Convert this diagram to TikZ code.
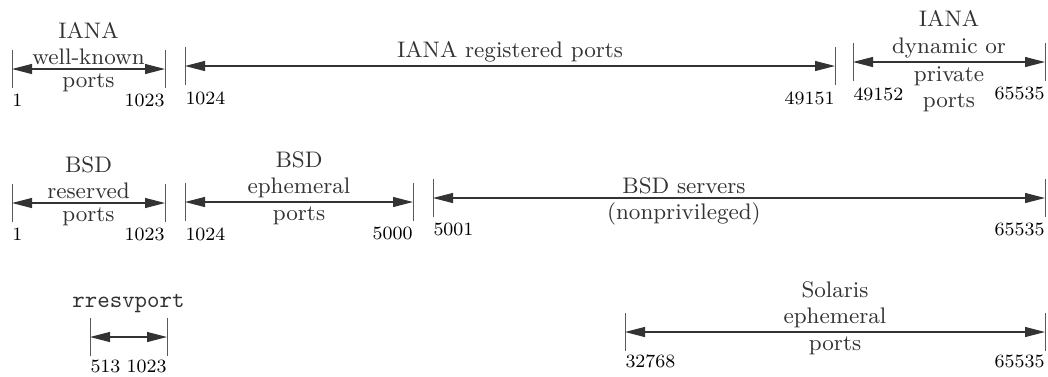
\documentclass[tikz,border=0pt]{standalone}
\usetikzlibrary{arrows.meta,positioning}
\begin{document}
\begin{tikzpicture}[
    x=0.4pt, y=-0.4pt,
    font=\fontsize{9}{10.5}\selectfont,
    span/.style={draw, black!80, line width=0.45pt, {Triangle[length=8pt,width=4pt]}-{Triangle[length=8pt,width=4pt]}},
    tick/.style={draw, black!65, line width=0.35pt},
    num/.style={font=\fontsize{7.5}{8}\selectfont, inner sep=0pt},
    lbl/.style={align=center, inner sep=1.5pt},
  ]
    \useasboundingbox (0,0) rectangle (1048,376);
    % range end points
    \coordinate (wk1) at (12,69);   \coordinate (wk2) at (165,69);
    \coordinate (rg1) at (185,66);  \coordinate (rg2) at (835,66);
    \coordinate (dy1) at (853,62);  \coordinate (dy2) at (1045,62);
    \coordinate (rs1) at (12,203);  \coordinate (rs2) at (165,203);
    \coordinate (ep1) at (185,202); \coordinate (ep2) at (413,202);
    \coordinate (sv1) at (433,198); \coordinate (sv2) at (1045,198);
    \coordinate (rr1) at (90,337);  \coordinate (rr2) at (167,337);
    \coordinate (so1) at (625,332); \coordinate (so2) at (1045,332);
    % ticks
    \foreach \c in {wk1,wk2,rg1,rg2,dy1,dy2,rs1,rs2,ep1,ep2,sv1,sv2,rr1,rr2,so1,so2}
      \draw[tick] (\c) ++(0,-19) -- ++(0,38);
    % IANA
    \draw[span] (wk1) -- node[lbl, above] (wkT) {IANA\\well-known} node[lbl, below] (wkB) {ports} (wk2);
    \draw[span] (rg1) -- node[lbl, above] (rgT) {IANA registered ports} (rg2);
    \draw[span] (dy1) -- node[lbl, above] (dyT) {IANA\\dynamic or} node[lbl, below=0pt] (dyB) {private\\ports} (dy2);
    \node[num, anchor=north west] (n1) at ([yshift=-10pt]wk1) {1};
    \node[num, anchor=north east] (n1023) at ([yshift=-10pt]wk2) {1023};
    \node[num, anchor=north west] (n1024) at ([yshift=-10pt]rg1) {1024};
    \node[num, anchor=north east] (n49151) at ([yshift=-10pt]rg2) {49151};
    \node[num, anchor=north west] (n49152) at ([yshift=-10pt]dy1) {49152};
    \node[num, anchor=north east] (n65535a) at ([yshift=-10pt]dy2) {65535};
    % BSD
    \draw[span] (rs1) -- node[lbl, above] (rsT) {BSD\\reserved} node[lbl, below] (rsB) {ports} (rs2);
    \draw[span] (ep1) -- node[lbl, above] (epT) {BSD\\ephemeral} node[lbl, below] (epB) {ports} (ep2);
    \draw[span] (sv1) -- node[lbl, above, pos=0.41] (svT) {BSD servers} node[lbl, below, pos=0.41] (svB) {(nonprivileged)} (sv2);
    \node[num, anchor=north west] (m1) at ([yshift=-10pt]rs1) {1};
    \node[num, anchor=north east] (m1023) at ([yshift=-10pt]rs2) {1023};
    \node[num, anchor=north west] (m1024) at ([yshift=-10pt]ep1) {1024};
    \node[num, anchor=north east] (m5000) at ([yshift=-10pt]ep2) {5000};
    \node[num, anchor=north west] (m5001) at ([yshift=-10pt]sv1) {5001};
    \node[num, anchor=north east] (m65535) at ([yshift=-10pt]sv2) {65535};
    % rresvport and Solaris
    \draw[span] (rr1) -- node[lbl, above=8pt] (rrT) {\ttfamily\fontsize{9.5}{11}\selectfont rresvport} (rr2);
    \draw[span] (so1) -- node[lbl, above] (soT) {Solaris\\ephemeral} node[lbl, below] (soB) {ports} (so2);
    \node[num, anchor=north west] (k513) at ([yshift=-9pt]rr1) {513};
    \node[num, anchor=north east] (k1023) at ([yshift=-9pt]rr2) {1023};
    \node[num, anchor=north west] (k32768) at ([yshift=-9pt]so1) {32768};
    \node[num, anchor=north east] (k65535) at ([yshift=-9pt]so2) {65535};
  \end{tikzpicture}
\end{document}
